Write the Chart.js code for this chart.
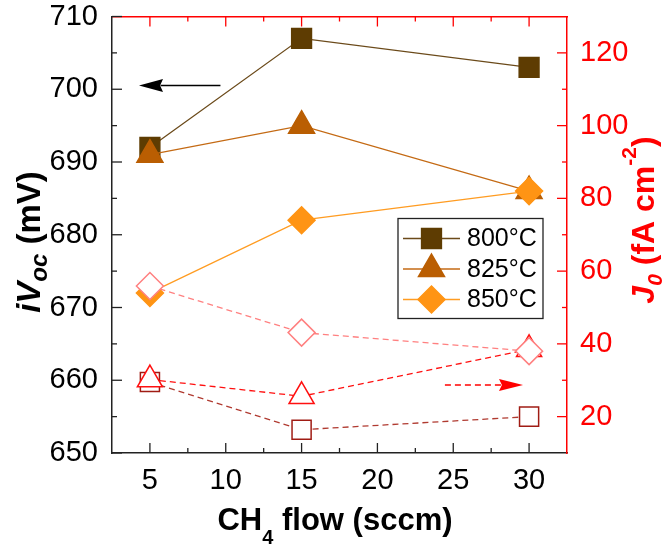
<!DOCTYPE html>
<html>
<head>
<meta charset="utf-8">
<title>iVoc và J0 theo lưu lượng CH4</title>
<script src="https://cdn.jsdelivr.net/npm/chart.js"></script>
<style>
    body { margin: 0; background: #fff; }
    #chart { display: block; }
</style>
</head>
<body>
<canvas id="chart" width="665" height="550"></canvas>
<script>
// Dữ liệu
const flows = [5, 15, 30];
const tempLabels = ['800°C', '825°C', '850°C'];

// iVoc (mV) - trục trái, ký hiệu đặc
const voc800 = [692, 707, 703];
const voc825 = [691, 695, 686];
const voc850 = [672, 682, 686];

// J0 (fA cm-2) - trục phải, ký hiệu rỗng
const j800 = [29.5, 16.4, 20];
const j825 = [30.2, 25.6, 38.5];
const j850 = [55.9, 43.1, 38];

// Vạch chia
const xTicks = [5, 10, 15, 20, 25, 30];
const xMinor = [7.5, 12.5, 17.5, 22.5, 27.5];
const yTicks = [650, 660, 670, 680, 690, 700, 710];
const yMinor = [655, 665, 675, 685, 695, 705];
const y2Ticks = [20, 40, 60, 80, 100, 120];
const y2Minor = [30, 50, 70, 90, 110];

// Mũi tên chỉ trục (toạ độ dữ liệu)
const arrowVoc = { x1: 9.65, x2: 4.28, y: 700.5 };
const arrowJ0 = { x1: 24.45, x2: 29.6, y: 28.7 };

const FONT = '"Liberation Sans", Arial, Helvetica, sans-serif';
const RED = '#ff0000';
const AXIS = '#222222';

function pts(ys) {
    return flows.map((x, i) => ({ x: x, y: ys[i] }));
}

// Tạo một dataset
function series(label, ys, axis, style, color, fill, radius, dash, order) {
    return {
        label: label,
        data: pts(ys),
        yAxisID: axis,
        showLine: true,
        borderColor: color,
        borderWidth: 1.3,
        borderDash: dash,
        pointStyle: style,
        pointRadius: radius,
        pointHoverRadius: radius,
        pointBackgroundColor: fill,
        pointBorderColor: color,
        pointBorderWidth: 1.5,
        order: order
    };
}

const datasets = [
    series(tempLabels[0], voc800, 'y', 'rect', '#5e3c02', '#5e3c02', 14, [], 6),
    series(tempLabels[1], voc825, 'y', 'triangle', '#ba5e02', '#ba5e02', 15, [], 5),
    series(tempLabels[2], voc850, 'y', 'rectRot', '#ff9414', '#ff9414', 13.5, [], 4),
    series('J0 800', j800, 'y2', 'rect', '#a01c14', '#ffffff', 13.5, [6, 4], 3),
    series('J0 825', j825, 'y2', 'triangle', '#ff1010', '#ffffff', 14.5, [6, 4], 2),
    series('J0 850', j850, 'y2', 'rectRot', '#ff8080', '#ffffff', 13.5, [6, 4], 1)
];
// Màu đường nối nhạt hơn ký hiệu một chút
datasets[0].borderColor = '#6b4a1a';
datasets[1].borderColor = '#c46a14';
datasets[2].borderColor = '#ff9c22';
datasets[3].borderColor = '#b03a30';

function fixTicks(values) {
    return function(scale) {
        scale.ticks = values.map(v => ({ value: v }));
    };
}

// Cố định kích thước trục, bỏ phần đệm tự động
function fitSize(w, h) {
    return function(scale) {
        if (w !== null) scale.width = w;
        if (h !== null) scale.height = h;
        scale.paddingTop = 0;
        scale.paddingBottom = 0;
        scale.paddingLeft = 0;
        scale.paddingRight = 0;
    };
}

// Vẽ vạch chia hướng vào trong
const innerTicks = {
    id: 'innerTicks',
    afterDraw(chart) {
        const ctx = chart.ctx;
        const a = chart.chartArea;
        const sx = chart.scales.x, sy = chart.scales.y, sy2 = chart.scales.y2;
        ctx.save();
        ctx.lineWidth = 1.3;
        function vTick(x, y, len, color) {
            ctx.strokeStyle = color;
            ctx.beginPath(); ctx.moveTo(x, y); ctx.lineTo(x, y + len); ctx.stroke();
        }
        function hTick(x, y, len, color) {
            ctx.strokeStyle = color;
            ctx.beginPath(); ctx.moveTo(x, y); ctx.lineTo(x + len, y); ctx.stroke();
        }
        xTicks.forEach(v => {
            const px = sx.getPixelForValue(v);
            vTick(px, a.bottom, -10, AXIS);
            vTick(px, a.top, 10, RED);
        });
        xMinor.forEach(v => {
            const px = sx.getPixelForValue(v);
            vTick(px, a.bottom, -5, AXIS);
            vTick(px, a.top, 5, RED);
        });
        yTicks.forEach(v => hTick(a.left, sy.getPixelForValue(v), 10, AXIS));
        yMinor.forEach(v => hTick(a.left, sy.getPixelForValue(v), 5, AXIS));
        y2Ticks.forEach(v => hTick(a.right, sy2.getPixelForValue(v), -10, RED));
        y2Minor.forEach(v => hTick(a.right, sy2.getPixelForValue(v), -5, RED));
        ctx.restore();
    }
};

// Vẽ chuỗi chữ có chỉ số trên/dưới
function drawRich(ctx, parts, cx, cy, rotation, size, color, capShift) {
    ctx.save();
    ctx.translate(cx, cy);
    ctx.rotate(rotation);
    ctx.fillStyle = color;
    ctx.textBaseline = 'alphabetic';
    ctx.textAlign = 'left';
    const fontOf = p => (p.italic ? 'italic ' : '') + 'bold ' + Math.round(size * (p.scale || 1)) + 'px ' + FONT;
    let total = 0;
    parts.forEach(p => { ctx.font = fontOf(p); p.w = ctx.measureText(p.text).width; total += p.w; });
    let x = -total / 2;
    parts.forEach(p => {
        ctx.font = fontOf(p);
        ctx.fillText(p.text, x, capShift + (p.shift || 0) * size);
        x += p.w;
    });
    ctx.restore();
}

// Tiêu đề các trục, chú giải và mũi tên
const decorations = {
    id: 'decorations',
    afterDraw(chart) {
        const ctx = chart.ctx;
        const a = chart.chartArea;
        const sx = chart.scales.x, sy = chart.scales.y, sy2 = chart.scales.y2;

        drawRich(ctx, [
            { text: 'i', italic: true },
            { text: 'V', italic: true },
            { text: 'oc', italic: true, scale: 0.72, shift: 0.2 },
            { text: ' (mV)' }
        ], 28, 242, -Math.PI / 2, 33, '#000', 12);

        drawRich(ctx, [
            { text: 'J', italic: true },
            { text: '0', italic: true, scale: 0.65, shift: 0.25 },
            { text: ' (fA cm' },
            { text: '-2', scale: 0.65, shift: -0.55 },
            { text: ')' }
        ], 643, 220, -Math.PI / 2, 32, RED, 11);

        drawRich(ctx, [
            { text: 'CH' },
            { text: '4', scale: 0.65, shift: 0.45 },
            { text: ' flow (sccm)' }
        ], 335, 518, 0, 31, '#000', 12);

        // Mũi tên
        ctx.save();
        function arrow(x1, x2, y, color, dash, headLen, headHalf) {
            ctx.strokeStyle = color;
            ctx.fillStyle = color;
            ctx.lineWidth = 1.5;
            ctx.setLineDash(dash);
            const dir = Math.sign(x2 - x1);
            ctx.beginPath(); ctx.moveTo(x1, y); ctx.lineTo(x2 - dir * headLen * 0.9, y); ctx.stroke();
            ctx.setLineDash([]);
            ctx.beginPath();
            ctx.moveTo(x2, y);
            ctx.lineTo(x2 - dir * headLen, y - headHalf);
            ctx.lineTo(x2 - dir * headLen * 0.88, y);
            ctx.lineTo(x2 - dir * headLen, y + headHalf);
            ctx.closePath();
            ctx.fill();
        }
        arrow(sx.getPixelForValue(arrowVoc.x1), sx.getPixelForValue(arrowVoc.x2),
              sy.getPixelForValue(arrowVoc.y), '#000', [], 24, 6.5);
        arrow(sx.getPixelForValue(arrowJ0.x1), sx.getPixelForValue(arrowJ0.x2),
              sy2.getPixelForValue(arrowJ0.y), RED, [6, 4], 24, 6);
        ctx.restore();

        // Chú giải (chỉ các dãy iVoc)
        const bx = a.right - 169, by = a.top + 202, bw = 145, bh = 100;
        ctx.save();
        ctx.fillStyle = '#fff';
        ctx.fillRect(bx, by, bw, bh);
        ctx.strokeStyle = '#222';
        ctx.lineWidth = 1.3;
        ctx.strokeRect(bx, by, bw, bh);
        for (let i = 0; i < 3; i++) {
            const ds = chart.data.datasets[i];
            const ly = by + 20 + i * 30.5;
            ctx.strokeStyle = ds.borderColor;
            ctx.lineWidth = 1.3;
            ctx.beginPath(); ctx.moveTo(bx + 5, ly); ctx.lineTo(bx + 62, ly); ctx.stroke();
            ctx.fillStyle = ds.pointBackgroundColor;
            ctx.strokeStyle = ds.pointBorderColor;
            ctx.lineWidth = 1.5;
            Chart.helpers.drawPoint(ctx, {
                pointStyle: ds.pointStyle, radius: ds.pointRadius, rotation: 0, borderWidth: 1.5
            }, bx + 33.5, ly);
            ctx.fillStyle = '#000';
            ctx.font = '25px ' + FONT;
            ctx.textBaseline = 'middle';
            ctx.textAlign = 'left';
            ctx.fillText(ds.label, bx + 69, ly + 1);
        }
        ctx.restore();
    }
};

new Chart(document.getElementById('chart').getContext('2d'), {
    type: 'line',
    data: { datasets: datasets },
    options: {
        responsive: false,
        animation: false,
        layout: { padding: 0 },
        plugins: {
            legend: { display: false },
            tooltip: { enabled: false }
        },
        scales: {
            x: {
                type: 'linear', position: 'bottom', min: 2.5, max: 32.5,
                afterBuildTicks: fixTicks(xTicks),
                afterFit: fitSize(null, 97),
                grid: { display: false, drawTicks: false },
                border: { color: AXIS, width: 1.5 },
                ticks: { color: '#000', padding: 11, maxRotation: 0, font: { family: FONT, size: 29 } }
            },
            x2: {
                type: 'linear', position: 'top', min: 2.5, max: 32.5,
                afterFit: fitSize(null, 16),
                grid: { display: false, drawTicks: false },
                border: { color: RED, width: 1.5 },
                ticks: { display: false }
            },
            y: {
                type: 'linear', position: 'left', min: 650, max: 710,
                afterBuildTicks: fixTicks(yTicks),
                afterFit: fitSize(112, null),
                grid: { display: false, drawTicks: false },
                border: { color: AXIS, width: 1.5 },
                ticks: { color: '#000', padding: 14, font: { family: FONT, size: 29 } }
            },
            y2: {
                type: 'linear', position: 'right', min: 10, max: 130,
                afterBuildTicks: fixTicks(y2Ticks),
                afterFit: fitSize(98, null),
                grid: { display: false, drawTicks: false },
                border: { color: RED, width: 1.5 },
                ticks: { color: RED, padding: 13, font: { family: FONT, size: 29 } }
            }
        }
    },
    plugins: [innerTicks, decorations]
});
</script>
</body>
</html>
